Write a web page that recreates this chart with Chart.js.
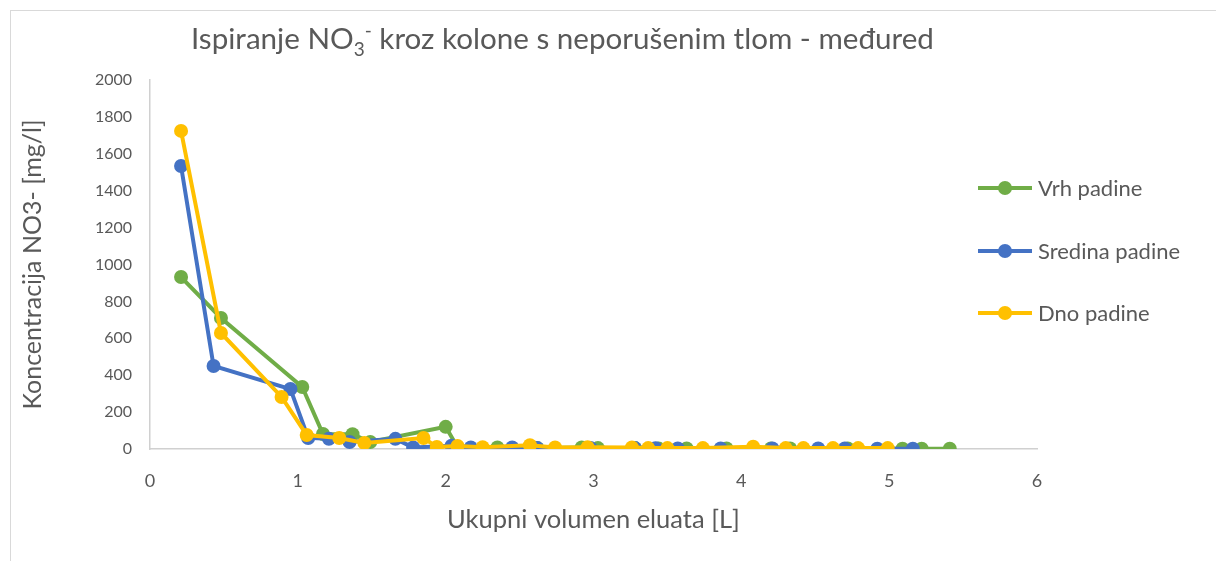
<!DOCTYPE html>
<html>
<head>
<meta charset="utf-8">
<script src="https://cdn.jsdelivr.net/npm/chart.js@4.4.0/dist/chart.umd.min.js"></script>
<style>
  body { margin: 0; background: #fff; }
  #wrap { width: 1216px; height: 561px; }
</style>
</head>
<body>
<div id="wrap"><canvas id="chart" width="1216" height="561"></canvas></div>
<script>
// Vrh padine (green)
var vrhX = [0.21, 0.48, 1.03, 1.17, 1.37, 1.49, 2.0, 2.08, 2.35, 2.62, 2.92, 3.03, 3.28, 3.44, 3.63, 3.90, 4.20, 4.33, 4.72, 5.09, 5.22, 5.41]
var vrhY = [932, 710, 336, 81, 80, 38, 120, 10, 8, 5, 8, 5, 5, 3, 3, 3, 3, 3, 3, 2, 2, 2]
// Sredina padine (blue)
var sredX = [0.21, 0.43, 0.95, 1.07, 1.21, 1.35, 1.66, 1.78, 2.04, 2.17, 2.45, 2.62, 2.98, 3.28, 3.42, 3.57, 3.86, 4.21, 4.52, 4.70, 4.92, 5.16]
var sredY = [1534, 450, 325, 60, 55, 38, 55, 8, 18, 8, 8, 5, 5, 5, 4, 3, 3, 3, 3, 3, 2, 2]
// Dno padine (yellow)
var dnoX = [0.21, 0.48, 0.89, 1.06, 1.28, 1.45, 1.85, 1.94, 2.08, 2.25, 2.57, 2.74, 2.96, 3.26, 3.37, 3.50, 3.74, 4.08, 4.30, 4.42, 4.62, 4.79, 4.99]
var dnoY = [1724, 629, 282, 76, 60, 33, 60, 11, 16, 10, 20, 8, 10, 8, 5, 5, 5, 12, 5, 5, 5, 5, 5]

var seriesNames = ['Vrh padine', 'Sredina padine', 'Dno padine']
var xTicks = [0, 1, 2, 3, 4, 5, 6]
var yTicks = [0, 200, 400, 600, 800, 1000, 1200, 1400, 1600, 1800, 2000]

var txt = '#595959'
var font = 'Lato, "Open Sans", sans-serif'

function pts(xs, ys) {
    var out = []
    for (var i = 0; i < xs.length; i++) out.push({x: xs[i], y: ys[i]})
    return out
}

function ds(label, data, color, order) {
    return {
        label: label,
        data: data,
        showLine: true,
        borderColor: color,
        backgroundColor: color,
        borderWidth: 4,
        pointRadius: 7,
        pointHoverRadius: 7,
        pointBorderWidth: 0,
        tension: 0,
        order: order
    }
}

// title with sub/superscript, chart frame and the side legend
var extras = {
    id: 'extras',
    beforeDraw: function(chart) {
        var c = chart.ctx
        c.save()
        c.fillStyle = '#fff'
        c.fillRect(0, 0, chart.width, chart.height)
        c.strokeStyle = '#d9d9d9'
        c.lineWidth = 1
        c.strokeRect(10.5, 10.5, 1400, 800)
        c.restore()
    },
    afterDraw: function(chart) {
        var c = chart.ctx
        c.save()
        c.fillStyle = txt
        c.textBaseline = 'alphabetic'
        c.textAlign = 'left'
        var big = '29.6px ' + font, small = '19px ' + font
        var parts = [
            ['Ispiranje NO', big, 0],
            ['3', small, 7],
            ['-', small, -12],
            [' kroz kolone s neporušenim tlom - međured', big, 0]
        ]
        var x = 191, base = 49
        parts.forEach(function(p) {
            c.font = p[1]
            c.fillText(p[0], x, base + p[2])
            x += c.measureText(p[0]).width
        })

        // legend
        var ly = [188, 251, 313]
        chart.data.datasets.forEach(function(d, i) {
            c.strokeStyle = d.borderColor
            c.fillStyle = d.borderColor
            c.lineWidth = 4
            c.beginPath()
            c.moveTo(978, ly[i])
            c.lineTo(1032, ly[i])
            c.stroke()
            c.beginPath()
            c.arc(1005, ly[i], 7, 0, Math.PI * 2)
            c.fill()
            c.fillStyle = txt
            c.font = '22px ' + font
            c.textBaseline = 'middle'
            c.fillText(d.label, 1038, ly[i] + 1)
        })
        c.restore()
    }
}

var ctx = document.getElementById('chart').getContext('2d')
var chart = new Chart(ctx, {
    type: 'scatter',
    data: {
        datasets: [
            ds(seriesNames[0], pts(vrhX, vrhY), '#70AD47', 3),
            ds(seriesNames[1], pts(sredX, sredY), '#4472C4', 2),
            ds(seriesNames[2], pts(dnoX, dnoY), '#FFC000', 1)
        ]
    },
    plugins: [extras],
    options: {
        responsive: false,
        animation: false,
        events: [],
        layout: { padding: { left: 10, top: 80, right: 179, bottom: 0 } },
        plugins: {
            legend: { display: false },
            title: { display: false },
            tooltip: { enabled: false }
        },
        scales: {
            x: {
                type: 'linear',
                min: xTicks[0],
                max: xTicks[xTicks.length - 1],
                afterFit: function(s) { s.height = 112 },
                afterBuildTicks: function(s) { s.ticks = xTicks.map(function(v) { return {value: v} }) },
                grid: { display: false, drawTicks: false },
                border: { display: true, color: '#d0d0d0', width: 1.5 },
                ticks: { color: txt, font: { family: font, size: 18 }, padding: 21,
                         callback: function(v) { return String(v) } },
                title: {
                    display: true,
                    text: 'Ukupni volumen eluata [L]',
                    color: txt,
                    font: { family: font, size: 25.5 },
                    padding: { top: 26, bottom: 26 }
                }
            },
            y: {
                type: 'linear',
                min: yTicks[0],
                max: yTicks[yTicks.length - 1],
                afterFit: function(s) { s.width = 140 },
                afterBuildTicks: function(s) { s.ticks = yTicks.map(function(v) { return {value: v} }) },
                grid: { display: false, drawTicks: false },
                border: { display: true, color: '#d0d0d0', width: 1.5 },
                ticks: { color: txt, font: { family: font, size: 16 }, padding: 18,
                         callback: function(v) { return String(v) } },
                title: {
                    display: true,
                    text: 'Koncentracija NO3- [mg/l]',
                    color: txt,
                    font: { family: font, size: 25 },
                    padding: { top: 8, bottom: 8 }
                }
            }
        }
    }
})
</script>
</body>
</html>
